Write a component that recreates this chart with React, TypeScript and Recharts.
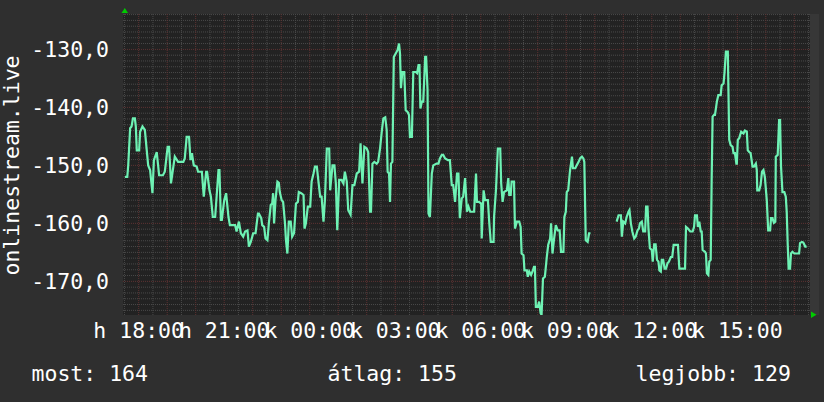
import React from 'react';
import { LineChart, Line, XAxis, YAxis, CartesianGrid, ReferenceLine } from 'recharts';

// minutes after Monday 18:00
const minutes = [
    -29, -24, -22, -18, -15, -12, -8, -6, -4, 1, 3, 8, 13, 17, 20, 24, 29, 32, 38, 43, 51, 55, 61, 64, 68, 73, 76, 83, 94, 97,
    101, 106, 109, 112, 116, 122, 125, 133, 137, 142, 144, 149, 152, 156, 161, 168, 170, 173, 175, 180, 184, 189, 192, 203, 206,
    211, 215, 220, 224, 229, 232, 236, 241, 246, 251, 253, 258, 260, 264, 267, 271, 274, 278, 281, 283, 285, 288, 292, 295, 297,
    301, 304, 308, 310, 313, 316, 320, 323, 327, 331, 335, 337, 342, 347, 349, 352, 356, 361, 364, 368, 371, 375, 378, 382, 385,
    389, 392, 396, 401, 403, 408, 412, 415, 418, 422, 427, 431, 434, 438, 441, 446, 450, 454, 459, 464, 467, 469, 471, 475, 480,
    483, 487, 489, 492, 496, 501, 504, 508, 512, 515, 519, 522, 524, 527, 529, 531, 534, 537, 541, 545, 548, 550, 552, 555, 559,
    562, 566, 569, 571, 575, 578, 583, 586, 589, 591, 593, 596, 599, 603, 605, 608, 610, 613, 617, 620, 627, 631, 634, 638, 641,
    645, 651, 655, 659, 662, 666, 670, 673, 676, 680, 683, 687, 691, 694, 698, 706, 710, 712, 716, 721, 722, 726, 729, 735, 738,
    741, 747, 748, 752, 756, 761, 763, 766, 769, 775, 778, 780, 783, 785, 790, 792, 796, 801, 804, 806, 810, 812, 817, 819, 822,
    826, 829, 832, 834, 836, 840, 843, 846, 848, 851, 855, 859, 862, 866, 868, 871, 874, 878, 882, 886, 889, 894, 896, 899, 901,
    904, 908, 912, 914, 919, 922, 926, 929, 933, 936, 938, 941, 945, 948, 951, 978,
    1006, 1010, 1015, 1017, 1020, 1024, 1027, 1031, 1033, 1036, 1039, 1043, 1046, 1050, 1053, 1055, 1059, 1062, 1066, 1068, 1071,
    1073, 1076, 1080, 1082, 1085, 1088, 1091, 1094, 1096, 1099, 1101, 1104, 1107, 1110, 1113, 1116, 1120, 1123, 1126, 1135, 1138,
    1150, 1152, 1156, 1161, 1166, 1169, 1171, 1175, 1177, 1180, 1183, 1185, 1187, 1192, 1194, 1196, 1199, 1201, 1204, 1206, 1208,
    1211, 1213, 1217, 1220, 1225, 1227, 1231, 1233, 1236, 1240, 1243, 1246, 1250, 1252, 1255, 1258, 1259, 1261, 1264, 1268, 1273,
    1276, 1280, 1282, 1285, 1288, 1292, 1295, 1299, 1301, 1302, 1306, 1309, 1312, 1315, 1318, 1322, 1325, 1329, 1331, 1334, 1337,
    1340, 1341, 1345, 1348, 1350, 1352, 1355, 1359, 1362, 1364, 1366, 1368, 1371, 1373, 1376, 1380, 1390, 1392, 1396, 1399, 1403, 1406,
];

const values = [
    -152.0, -152.0, -150.0, -143.6, -143.3, -141.9, -141.9, -143.3, -147.4, -147.4, -144.2, -143.3, -143.9, -147.4, -150.0, -150.8,
    -154.8, -149.1, -147.7, -151.7, -151.7, -151.1, -146.8, -146.8, -153.1, -150.2, -148.5, -149.4, -149.4, -148.8,
    -145.1, -145.1, -149.1, -147.9, -150.0, -150.2, -151.1, -151.1, -155.4, -151.1, -151.1, -154.3, -155.4, -158.9, -158.9, -150.8,
    -150.8, -159.4, -159.4, -156.0, -154.8, -158.9, -160.3, -160.3, -161.4,
    -159.7, -161.7, -162.3, -161.4, -161.2, -164.0, -163.2, -161.7, -161.7, -158.3, -158.3, -159.1, -160.3, -160.6, -162.6, -162.9,
    -160.0, -156.8, -156.6, -154.8, -160.0, -156.0, -152.8, -153.0, -154.6,
    -156.0, -156.3, -160.0, -162.9, -165.2, -159.7, -159.7, -162.3, -161.7, -156.6, -156.3, -154.6, -154.8, -155.1, -160.9, -160.0,
    -157.1, -157.1, -152.8, -151.4, -150.2, -150.2, -152.5, -155.4, -155.4,
    -159.7, -156.0, -147.1, -147.1, -154.3, -150.0, -150.0, -153.1, -161.2, -152.5, -152.5, -153.1, -151.1, -152.8, -157.7, -158.5,
    -153.4, -153.4, -151.4, -151.1, -146.2, -149.7, -153.1, -146.8, -147.1,
    -147.7, -158.0, -158.0, -149.7, -149.4, -149.7, -149.4, -147.1, -143.9, -141.9, -141.7, -143.9, -151.1, -151.4, -156.3, -149.7,
    -149.4, -131.3, -130.7, -130.1, -129.0, -130.7, -136.7, -133.9, -133.9,
    -140.5, -140.8, -141.3, -145.1, -145.1, -133.9, -133.9, -134.1, -132.7, -132.7, -140.2, -139.0, -139.0, -131.3, -131.3, -137.0,
    -158.3, -158.9, -151.4, -150.0, -149.7, -149.7, -148.8, -148.2, -148.2,
    -148.8, -149.1, -149.1, -153.4, -153.4, -156.3, -151.4, -151.4, -159.1, -155.7, -155.4, -152.2, -158.0, -157.1, -158.0, -158.0,
    -151.4, -156.3, -156.3, -156.6, -162.6, -154.3, -156.0, -156.0, -160.0,
    -163.2, -163.2, -158.9, -154.3, -147.1, -147.1, -153.1, -156.3, -154.6, -154.3, -152.2, -155.1, -155.1, -152.8, -152.8, -160.9,
    -159.7, -159.7, -160.6, -165.2, -165.5, -168.1, -168.1, -169.2, -168.3,
    -168.9, -168.3, -167.5, -167.5, -174.4, -174.4, -173.5, -175.5, -175.8, -169.5, -169.2, -165.8, -163.7, -162.6, -160.0, -165.2,
    -162.9, -160.3, -161.2, -161.2, -164.9, -164.9, -158.9, -158.0, -154.6,
    -154.3, -150.8, -148.5, -150.5, -150.5, -150.0, -149.4, -148.8, -148.5, -148.8, -149.4, -162.9, -163.2, -161.7, -161.7, null,
    -159.7, -158.6, -158.6, -162.3, -159.7, -160.0, -158.9, -158.0, -157.7, -160.0, -161.4, -162.6, -162.3, -161.2, -160.9, -160.0,
    -159.7, -161.4, -161.4, -157.1, -157.1,
    -160.9, -164.3, -164.6, -166.6, -163.6, -163.6, -166.3, -166.6, -168.1, -168.3, -166.3, -166.3, -167.8, -167.8, -166.9, -166.6,
    -165.8, -165.8, -163.7, -163.7, -167.8,
    -167.8, -160.6, -160.9, -161.4, -161.4, -160.6, -158.6, -158.6, -160.6, -159.7, -161.4, -161.4, -164.6, -164.9, -165.2, -168.6,
    -168.9, -166.6, -166.3, -152.5, -141.6,
    -141.3, -141.3, -139.0, -137.9, -137.9, -136.2, -135.9, -134.1, -130.4, -130.4, -145.6, -146.5, -146.8, -147.9, -147.9, -149.7,
    -149.7, -145.6, -145.3, -144.2, -144.5,
    -144.0, -144.2, -147.4, -147.7, -147.9, -150.2, -150.2, -149.7, -150.8, -154.3, -154.3, -153.4, -151.1, -150.8, -152.0, -156.0,
    -161.2, -161.2, -159.1, -159.1, -159.9,
    -159.7, -148.5, -148.2, -142.2, -142.2, -150.2, -154.6, -154.6, -155.4, -158.0, -163.4, -167.8, -167.8, -165.2, -164.9, -165.2,
    -165.2, -163.4, -163.2, -163.3, -164.0, -164.0,
];

const timeTicks = [0, 180, 360, 540, 720, 900, 1080, 1260];
const timeLabels = ['h 18:00', 'h 21:00', 'k 00:00', 'k 03:00', 'k 06:00', 'k 09:00', 'k 12:00', 'k 15:00'];
const valueTicks = [-170, -160, -150, -140, -130];

const legendItems = [
    { label: 'most', value: 164 },
    { label: 'átlag', value: 155 },
    { label: 'legjobb', value: 129 },
];

const data = minutes.map((m, i) => ({ m, v: values[i] }));

const FONT = '"DejaVu Sans Mono", monospace';
const FS = 21.5;
const X_DOMAIN = [-33, 1413];
const Y_DOMAIN = [-175.8, -123.9];

// grid steps: 1 unit / 30 min minor, 10 units / 1 hour major
const hLines: number[] = [];
for (let v = -175; v <= -124; v++) hLines.push(v);
const vLines: number[] = [];
for (let t = -30; t <= 1410; t += 30) vLines.push(t);

const MINOR = '#4a4a4a';
const MAJOR = '#5e3232';

export default function App() {
    return (
        <div style={{ position: 'absolute', left: 0, top: 0, width: 824, height: 402, background: '#2f2f2f', fontFamily: FONT }}>
            <div style={{ position: 'absolute', left: 810, top: 14, width: 9, height: 301, background: '#373737' }} />
            <LineChart width={824} height={402} data={data} margin={{ top: 14, right: 14, bottom: 0, left: 0 }}>
                <CartesianGrid fill="#222222" horizontal={false} vertical={false} />
                {hLines.map((v) => (
                    <ReferenceLine key={`h${v}`} y={v} stroke={v % 10 === 0 ? MAJOR : MINOR} strokeDasharray="1 1" zIndex={-50} />
                ))}
                {vLines.map((t) => (
                    <ReferenceLine key={`v${t}`} x={t} stroke={t % 60 === 0 ? MAJOR : MINOR} strokeDasharray="1 1" zIndex={-50} />
                ))}
                <XAxis
                    dataKey="m"
                    type="number"
                    domain={X_DOMAIN}
                    allowDataOverflow
                    ticks={timeTicks}
                    interval={0}
                    tickFormatter={(t) => timeLabels[timeTicks.indexOf(t)]}
                    axisLine={false}
                    tickLine={false}
                    tickSize={0}
                    tickMargin={8}
                    height={87}
                    tick={{ fill: '#ffffff', fontSize: FS, fontFamily: FONT }}
                />
                <YAxis
                    type="number"
                    domain={Y_DOMAIN}
                    allowDataOverflow
                    ticks={valueTicks}
                    interval={0}
                    tickFormatter={(v) => v.toFixed(1).replace('.', ',')}
                    axisLine={false}
                    tickLine={false}
                    tickSize={0}
                    tickMargin={14}
                    width={123}
                    tick={{ fill: '#ffffff', fontSize: FS, fontFamily: FONT }}
                />
                <Line
                    type="linear"
                    dataKey="v"
                    stroke="#6ef2b4"
                    strokeWidth={2.2}
                    dot={false}
                    activeDot={false}
                    connectNulls={false}
                    isAnimationActive={false}
                />
            </LineChart>
            <svg width={824} height={402} style={{ position: 'absolute', left: 0, top: 0, pointerEvents: 'none' }}>
                <polygon points="121.5,13 128,13 124.8,8" fill="#00cc00" />
                <polygon points="811,311.5 811,318 816.5,314.8" fill="#00cc00" />
                <text x={18.5} y={165.5} transform="rotate(-90 18.5 165.5)" textAnchor="middle" fill="#ffffff" fontSize={FS} fontFamily={FONT}>
                    onlinestream.live
                </text>
                {legendItems.map((item, i) => (
                    <text key={item.label} x={[31.5, 327.5, 635.5][i]} y={381} fill="#ffffff" fontSize={FS} fontFamily={FONT}>
                        {`${item.label}: ${item.value}`}
                    </text>
                ))}
            </svg>
        </div>
    );
}
